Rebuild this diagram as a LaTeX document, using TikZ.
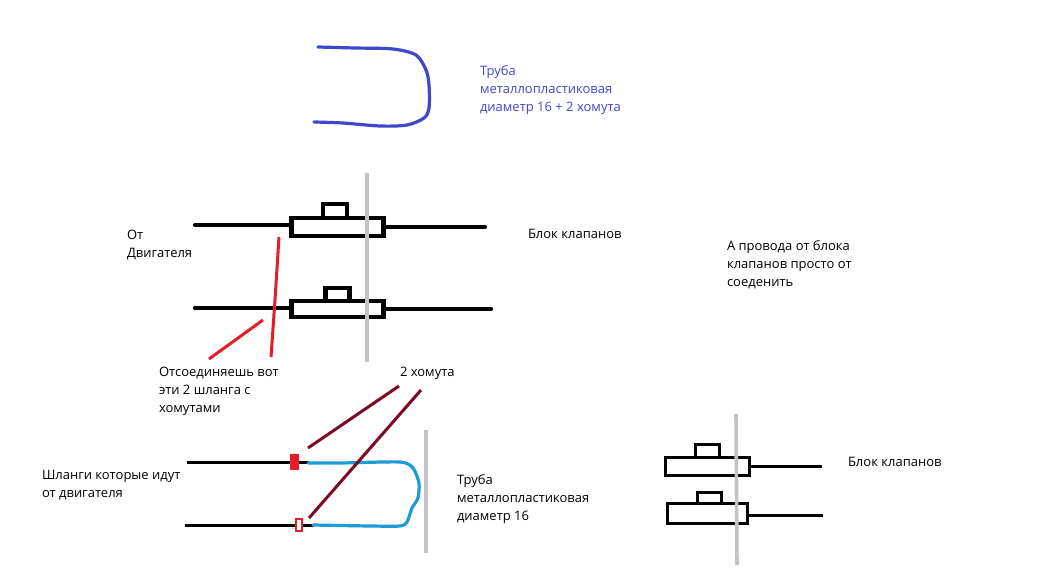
\documentclass[tikz,border=0pt]{standalone}
\usepackage{fontspec}
\setmainfont{Open Sans}
\usepackage{xcolor}
\usetikzlibrary{positioning}
\definecolor{tubeblue}{RGB}{63,72,204}
\definecolor{hoseblue}{RGB}{28,155,214}
\definecolor{clampred}{RGB}{230,28,40}
\definecolor{leaddark}{RGB}{125,10,36}
\definecolor{cutgray}{RGB}{195,195,195}

\begin{document}
\begin{tikzpicture}[
  x=1pt, y=-1pt,
  lbl/.style={anchor=north west, align=left, inner sep=0pt, outer sep=0pt,
              font=\fontsize{13pt}{18pt}\selectfont},
  valve/.style={draw, line width=4.2pt, inner sep=0pt, outer sep=0pt,
                minimum width=92pt, minimum height=18pt},
  valvecap/.style={draw, line width=4.2pt, inner sep=0pt, outer sep=0pt,
              minimum width=24pt, minimum height=14pt},
  smallvalve/.style={draw, line width=3pt, inner sep=0pt, outer sep=0pt,
                     minimum width=84pt, minimum height=18pt},
  smallcap/.style={draw, line width=3pt, inner sep=0pt, outer sep=0pt,
                   minimum width=24pt, minimum height=13pt},
  hose/.style={line width=4.2pt, line cap=round},
  thinhose/.style={line width=3pt},
  cutline/.style={line width=3.6pt, cutgray},
  redmark/.style={line width=3pt, clampred},
  darkmark/.style={line width=3pt, leaddark},
  pipe/.style={line width=3.2pt, line cap=round, line join=round}
]
\useasboundingbox (0,0) rectangle (1042,573);
\fill[white] (0,0) rectangle (1042,573);

% pipe at the top
\coordinate (pipeA) at (318,47);
\coordinate (pipeB) at (314,122);
\draw[pipe, tubeblue] plot[smooth, tension=0.5] coordinates {(pipeA) (355,48) (393,49) (416,55) (426,70) (429,85) (429,108) (424,118) (407,125) (380,126) (343,123) (pipeB)};
\node[lbl, text=tubeblue] (pipetxt) at (480,66) {Труба\\металлопластиковая\\диаметр 16 + 2 хомута};

% first drawing
\node[valve] (valveA) at (337.5,227) {};
\node[valvecap, above=0pt of valveA, xshift=-2.5pt] (capA) {};
\node[valve, minimum height=16pt] (valveB) at (337.5,309) {};
\node[valvecap, minimum height=13pt, above=0pt of valveB] (capB) {};
\coordinate (inA) at (195,225);
\coordinate (inB) at (195,308);
\coordinate (outA) at (485,227);
\coordinate (outB) at (491,309);
\draw[hose] (inA) -- (valveA.west |- inA);
\draw[hose] (valveA.east) -- (outA);
\draw[hose] (inB) -- (valveB.west |- inB);
\draw[hose] (valveB.east) -- (outB);
\coordinate (cutA) at (367,173);
\coordinate (cutB) at (367,362);
\draw[cutline] (cutA) -- (cutB);
\coordinate (markA) at (279,237);
\coordinate (markB) at (271,357);
\coordinate (markC) at (263,320);
\coordinate (markD) at (209,359);
\draw[redmark] (markA) -- (275,300) -- (markB);
\draw[redmark] (markC) -- (markD);
\node[lbl] (fromtxt) at (127,230) {От\\Двигателя};
\node[lbl] (blocktxt) at (528,229) {Блок клапанов};
\node[lbl] (wiretxt) at (727,241) {А провода от блока\\клапанов просто от\\соеденить};
\node[lbl] (detachtxt) at (159,367) {Отсоединяешь вот\\эти 2 шланга с\\хомутами};

% second drawing
\node[lbl] (clamptxt) at (400,367) {2 хомута};
\node[fill=clampred, inner sep=0pt, minimum width=9pt, minimum height=16pt] (clampA) at (294.5,462) {};
\node[draw=clampred, line width=2.4pt, inner sep=0pt, minimum width=5.5pt, minimum height=12pt] (clampB) at (299,525) {};
\coordinate (hoseA) at (187,462);
\coordinate (hoseB) at (185,525);
\draw[thinhose] (hoseA) -- (clampA);
\draw[thinhose] (clampA) -- (309,462);
\draw[thinhose] (hoseB) -- (clampB);
\draw[thinhose] (clampB) -- (313,525);
\coordinate (loopA) at (308,463);
\coordinate (loopB) at (313,525);
\draw[pipe, hoseblue] plot[smooth, tension=0.4] coordinates {(loopA) (340,463) (400,462) (413,468) (419,483) (418,498) (412,508) (407,522) (400,526) (370,526) (loopB)};
\coordinate (leadA) at (399,386);
\coordinate (leadB) at (308,448);
\coordinate (leadC) at (421,390);
\coordinate (leadD) at (309,518);
\draw[darkmark] (leadA) -- (leadB);
\draw[darkmark] (leadC) -- (leadD);
\coordinate (cutC) at (426,430);
\coordinate (cutD) at (426,553);
\draw[cutline] (cutC) -- (cutD);
\node[lbl] (hosetxt) at (42,470) {Шланги которые идут\\от двигателя};
\node[lbl] (tubetxt) at (457,475) {Труба\\металлопластиковая\\диаметр 16};

% third drawing
\node[smallvalve] (valveC) at (707.5,466.5) {};
\node[smallcap, above=0pt of valveC] (capC) {};
\node[smallvalve, minimum width=80pt, minimum height=20pt] (valveD) at (707.5,513.5) {};
\node[smallcap, minimum height=11pt, above=0pt of valveD, xshift=1.5pt] (capD) {};
\coordinate (outC) at (822,466.5);
\coordinate (outD) at (823,515);
\draw[thinhose] (valveC.east) -- (outC);
\draw[thinhose] (valveD.east |- outD) -- (outD);
\coordinate (cutE) at (736,414);
\coordinate (cutF) at (737,565);
\draw[cutline] (cutE) -- (cutF);
\node[lbl] (blocktxtB) at (848,457) {Блок клапанов};
\end{tikzpicture}
\end{document}
